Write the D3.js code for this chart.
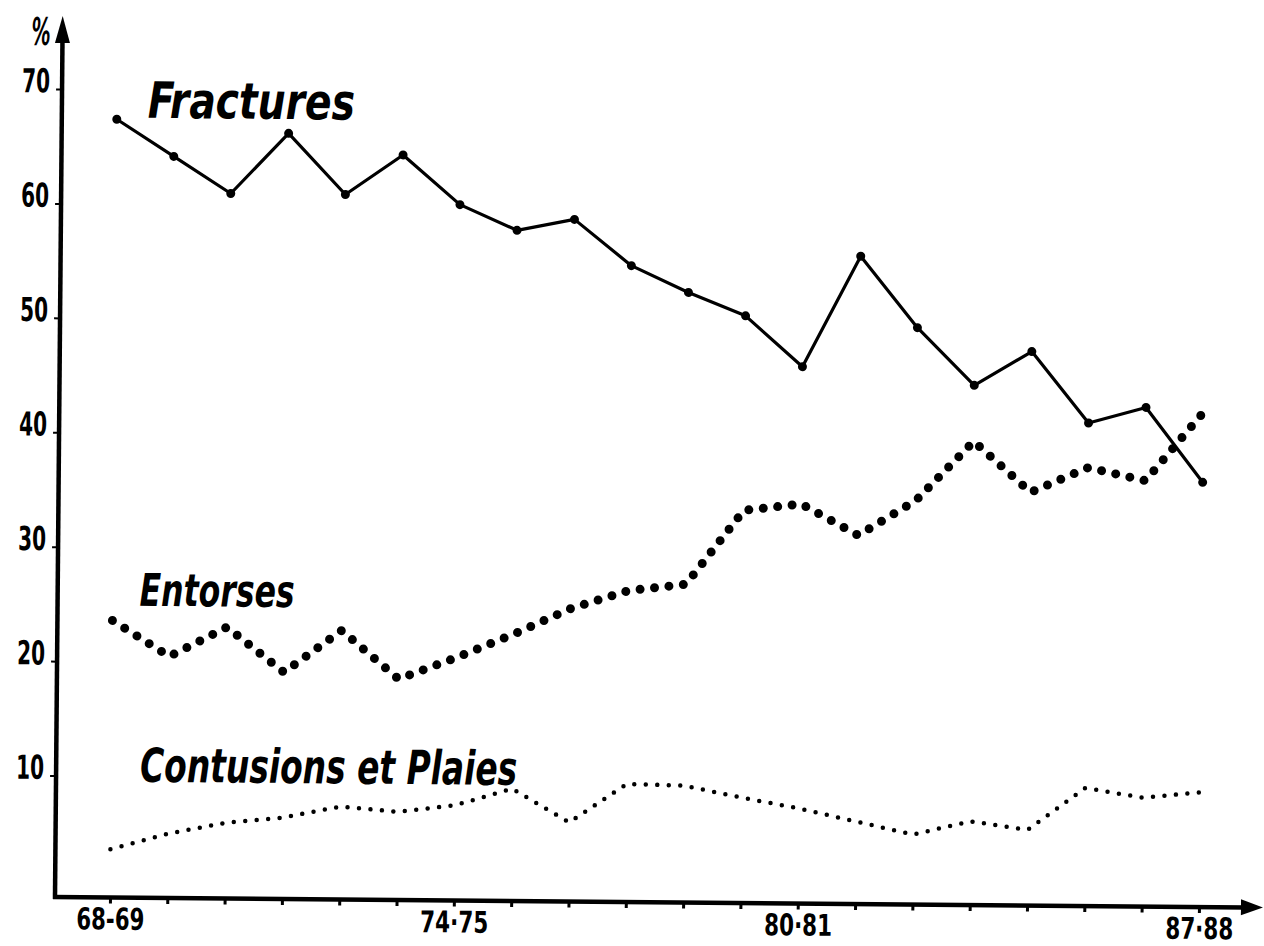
<!DOCTYPE html>
<html>
<head>
<meta charset="utf-8">
<script src="https://cdn.jsdelivr.net/npm/d3@7"></script>
<style>
  body { margin: 0; background: #fff; }
  text { fill: #000; }
  .lab { font-family: "DejaVu Sans Condensed", "DejaVu Sans", sans-serif; font-weight: bold; }
  .series-label { font-family: "DejaVu Sans Condensed", "DejaVu Sans", sans-serif; font-weight: bold; font-style: italic; }
</style>
</head>
<body>
<svg id="chart" width="1264" height="946"></svg>
<script>
const W = 1264, H = 946;

// seasons on the x axis
const seasons = ["68-69", "69-70", "70-71", "71-72", "72-73", "73-74", "74-75", "75-76", "76-77", "77-78",
                 "78-79", "79-80", "80-81", "81-82", "82-83", "83-84", "84-85", "85-86", "86-87", "87-88"];
const shownSeasons = {"68-69": "68-69", "74-75": "74·75", "80-81": "80·81", "87-88": "87·88"};
const yTicks = [10, 20, 30, 40, 50, 60, 70];

// values (%)
const fractures = [67.4, 64.2, 61.0, 66.3, 61.0, 64.5, 60.2, 58.0, 59.0, 55.0,
                   52.7, 50.7, 46.3, 56.0, 49.8, 44.8, 47.8, 41.6, 43.0, 36.5];
const entorses = [23.6, 20.5, 23.1, 19.2, 22.9, 18.7, 20.6, 22.7, 25.0, 26.6,
                  27.2, 33.7, 34.3, 31.6, 34.7, 39.9, 35.5, 37.7, 36.6, 42.6];
const contusions = [3.6, 5.0, 6.0, 6.5, 7.5, 7.1, 7.7, 9.2, 6.3, 9.7,
                    9.6, 8.6, 7.7, 6.6, 5.5, 6.7, 6.0, 9.7, 8.9, 9.4];

const originX = 55, axisY = 897;

const svg = d3.select("#chart");
// the scanned sheet is turned a little, so the whole drawing is too
const g = svg.append("g").attr("transform", `rotate(0.5, ${originX}, ${axisY})`);

const x = d3.scalePoint().domain(seasons).range([110, 1199]);
const y = d3.scaleLinear().domain([0, 70]).range([890, 89]);

// y axis line + arrow
g.append("line")
    .attr("x1", originX).attr("y1", axisY + 2)
    .attr("x2", originX).attr("y2", 40)
    .attr("stroke", "#000").attr("stroke-width", 4.5);
g.append("path")
    .attr("d", `M${originX - 7.5},43 L${originX},16 L${originX + 7.5},43 Z`)
    .attr("fill", "#000");

// x axis line + arrow
g.append("line")
    .attr("x1", originX - 2).attr("y1", axisY)
    .attr("x2", 1245).attr("y2", axisY)
    .attr("stroke", "#000").attr("stroke-width", 4.5);
g.append("path")
    .attr("d", `M1241,${axisY - 8} L1263,${axisY} L1241,${axisY + 8} Z`)
    .attr("fill", "#000");

// y ticks
const yAxis = g.append("g")
    .attr("transform", `translate(${originX},0)`)
    .call(d3.axisLeft(y).tickValues(yTicks).tickSize(6).tickPadding(6).tickFormat(d3.format("d")));
yAxis.select(".domain").remove();
yAxis.selectAll(".tick line").attr("stroke", "#000").attr("stroke-width", 2);
yAxis.selectAll(".tick text")
    .attr("class", "lab")
    .attr("font-size", 33)
    .attr("dy", 3)
    .attr("textLength", 28)
    .attr("lengthAdjust", "spacingAndGlyphs")
    .attr("fill", "#000");

g.append("text")
    .attr("class", "series-label")
    .attr("x", 43).attr("y", 45)
    .attr("text-anchor", "end")
    .attr("font-size", 38)
    .attr("textLength", 19)
    .attr("lengthAdjust", "spacingAndGlyphs")
    .text("%");

// x ticks
const xAxis = g.append("g")
    .attr("transform", `translate(0,${axisY})`)
    .call(d3.axisBottom(x).tickSize(6).tickFormat(d => shownSeasons[d] || ""));
xAxis.select(".domain").remove();
xAxis.selectAll(".tick line").attr("stroke", "#000").attr("stroke-width", 3);
xAxis.selectAll(".tick text")
    .filter(d => shownSeasons[d])
    .attr("class", "lab")
    .attr("font-size", 30)
    .attr("y", 32)
    .attr("dy", 0)
    .attr("textLength", 68)
    .attr("lengthAdjust", "spacingAndGlyphs")
    .attr("fill", "#000");

const line = d3.line().x((d, i) => x(seasons[i])).y(d => y(d));

// Fractures: solid line with dots
g.append("path")
    .datum(fractures)
    .attr("d", line)
    .attr("fill", "none")
    .attr("stroke", "#000")
    .attr("stroke-width", 3.2)
    .attr("stroke-linejoin", "round");
g.selectAll(".frac-dot")
    .data(fractures)
    .enter().append("circle")
    .attr("class", "frac-dot")
    .attr("cx", (d, i) => x(seasons[i]))
    .attr("cy", d => y(d))
    .attr("r", 4.5)
    .attr("fill", "#000");

// Entorses: heavy dotted line
g.append("path")
    .datum(entorses)
    .attr("d", line)
    .attr("fill", "none")
    .attr("stroke", "#000")
    .attr("stroke-width", 9)
    .attr("stroke-linecap", "round")
    .attr("stroke-dasharray", "0 14.5");

// Contusions et Plaies: fine dotted line
g.append("path")
    .datum(contusions)
    .attr("d", line)
    .attr("fill", "none")
    .attr("stroke", "#000")
    .attr("stroke-width", 4.5)
    .attr("stroke-linecap", "round")
    .attr("stroke-dasharray", "0 11.5");

// series names written on the chart
const labels = [
    {text: "Fractures", x: 141, y: 117, size: 50, len: 207},
    {text: "Entorses", x: 137, y: 605, size: 45, len: 155},
    {text: "Contusions et Plaies", x: 139, y: 781, size: 47, len: 377}
];
g.selectAll(".series-label.name")
    .data(labels)
    .enter().append("text")
    .attr("class", "series-label name")
    .attr("x", d => d.x)
    .attr("y", d => d.y)
    .attr("font-size", d => d.size)
    .attr("textLength", d => d.len)
    .attr("lengthAdjust", "spacingAndGlyphs")
    .text(d => d.text);
</script>
</body>
</html>
